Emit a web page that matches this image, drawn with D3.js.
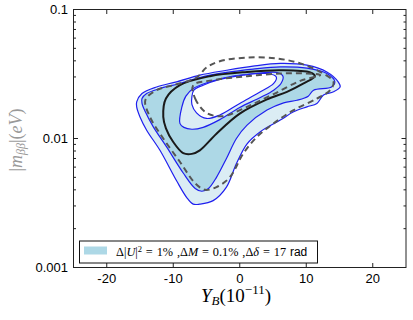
<!DOCTYPE html>
<html><head><meta charset="utf-8">
<script src="https://cdn.jsdelivr.net/npm/d3@7"></script>
<style>body{margin:0;background:#fff}</style>
</head><body><div id="chart"></div>
<script>
// tick values
const xTicks = [-20, -10, 0, 10, 20];
const yTicks = [0.001, 0.01, 0.1];
const yTickLabels = ["0.001", "0.01", "0.1"];

// contours: [Y_B (1e-11), |m_bb| (eV)]
const outerBlue = [[-15.5,0.0192],[-14.7,0.0223],[-12.5,0.0251],[-9.5,0.0275],[-6.0,0.0310],[-2.0,0.0338],[2.0,0.0364],[6.1,0.0382],[10.1,0.0370],[13.1,0.0328],[14.8,0.0275],[15.1,0.0251],[14.1,0.0230],[12.6,0.0217],[11.6,0.0187],[10.1,0.0176],[8.1,0.0161],[6.1,0.0139],[3.1,0.0113],[1.1,0.0091],[-0.5,0.0064],[-2.0,0.0042],[-4.0,0.0033],[-6.0,0.0031],[-7.0,0.0031],[-8.0,0.0035],[-9.5,0.0047],[-12.0,0.0081],[-14.0,0.0116],[-15.0,0.0147],[-15.5,0.0176]];
const midBlue = [[-14.7,0.0204],[-14.0,0.0223],[-12.0,0.0244],[-9.0,0.0267],[-6.0,0.0297],[-2.0,0.0325],[2.0,0.0345],[6.1,0.0359],[10.1,0.0351],[13.1,0.0319],[14.3,0.0275],[13.8,0.0251],[11.1,0.0237],[10.3,0.0213],[8.6,0.0198],[6.6,0.0189],[4.1,0.0166],[1.1,0.0127],[-0.5,0.0100],[-2.0,0.0070],[-3.5,0.0050],[-4.7,0.0041],[-5.7,0.0039],[-6.7,0.0041],[-8.5,0.0054],[-11.0,0.0086],[-13.0,0.0123],[-14.2,0.0161],[-14.7,0.0187]];
const innerBlue = [[-9.0,0.0131],[-8.7,0.0176],[-8.1,0.0213],[-7.0,0.0244],[-4.5,0.0275],[-1.0,0.0304],[3.1,0.0322],[5.6,0.0325],[6.5,0.0304],[6.2,0.0267],[5.1,0.0237],[3.1,0.0208],[0.0,0.0174],[-3.0,0.0140],[-5.5,0.0122],[-7.2,0.0118],[-8.4,0.0122]];
const holeBlue = [[-7.2,0.0210],[-6.9,0.0237],[-5.5,0.0259],[-3.0,0.0287],[0.5,0.0310],[4.1,0.0319],[5.5,0.0300],[5.1,0.0267],[3.1,0.0230],[0.0,0.0187],[-3.0,0.0152],[-5.0,0.0143],[-6.5,0.0158],[-7.2,0.0184]];
const blackLoop = [[-11.5,0.0147],[-11.1,0.0204],[-9.0,0.0259],[-4.5,0.0304],[1.1,0.0328],[6.1,0.0338],[10.6,0.0325],[11.3,0.0304],[9.6,0.0267],[7.1,0.0230],[4.1,0.0201],[0.0,0.0156],[-3.5,0.0109],[-6.0,0.0081],[-7.2,0.0076],[-8.5,0.0077],[-10.0,0.0094],[-11.1,0.0120]];
const dashOuter = [[-14.2,0.0198],[-12.5,0.0237],[-10.0,0.0259],[-6.5,0.0297],[-5.0,0.0355],[-3.0,0.0397],[1.1,0.0424],[5.6,0.0417],[9.1,0.0382],[12.1,0.0328],[14.1,0.0275],[13.6,0.0237],[11.6,0.0204],[8.1,0.0166],[5.1,0.0131],[2.6,0.0103],[0.5,0.0076],[-1.5,0.0050],[-3.5,0.0042],[-5.2,0.0040],[-6.7,0.0045],[-9.0,0.0066],[-11.5,0.0100],[-13.5,0.0147]];
const dashInner = [[-7.0,0.0259],[-6.7,0.0204],[-5.0,0.0158],[-2.5,0.0149],[1.1,0.0176],[5.1,0.0221],[9.1,0.0280],[12.1,0.0310],[10.1,0.0319],[6.1,0.0319],[1.1,0.0304],[-4.0,0.0283]];

const W = 413, H = 320;
const pLeft = 73.5, pRight = 406, pTop = 9.5, pBottom = 267.5;

const x = d3.scaleLinear().domain([-25, 25]).range([pLeft, pRight]);
const y = d3.scaleLog().domain([0.001, 0.1]).range([pBottom, pTop]);

const svg = d3.select('#chart').append('svg')
    .attr('width', W).attr('height', H);

svg.append('clipPath').attr('id', 'clip')
  .append('rect').attr('x', pLeft).attr('y', pTop)
    .attr('width', pRight - pLeft).attr('height', pBottom - pTop);

const line = d3.line()
    .x(d => x(d[0])).y(d => y(d[1]))
    .curve(d3.curveCatmullRomClosed.alpha(0.5));

const plot = svg.append('g').attr('clip-path', 'url(#clip)');
const light = '#dbedf4', mid = '#add8e6', blue = '#1f1fef';

function band(data, fill) {
  plot.append('path').datum(data)
      .attr('d', line)
      .attr('fill', fill)
      .attr('stroke', blue)
      .attr('stroke-width', 1.2);
}
band(outerBlue, light);
band(midBlue, mid);
band(innerBlue, light);
band(holeBlue, '#fff');

plot.append('path').datum(blackLoop)
    .attr('d', line).attr('fill', 'none')
    .attr('stroke', '#1a1a1a').attr('stroke-width', 2);

[dashOuter, dashInner].forEach(d => {
  plot.append('path').datum(d)
      .attr('d', line).attr('fill', 'none')
      .attr('stroke', '#555').attr('stroke-width', 2)
      .attr('stroke-dasharray', '6,4');
});

// ticks, inward on all four sides
const minor = [];
[0.001, 0.01].forEach(b => { for (let k = 2; k <= 9; k++) minor.push(b * k); });

const tk = svg.append('g').attr('stroke', '#222').attr('stroke-width', 1);
xTicks.forEach(v => {
  tk.append('line').attr('x1', x(v)).attr('x2', x(v)).attr('y1', pBottom).attr('y2', pBottom - 4.5);
  tk.append('line').attr('x1', x(v)).attr('x2', x(v)).attr('y1', pTop).attr('y2', pTop + 4.5);
});
yTicks.forEach(v => {
  tk.append('line').attr('y1', y(v)).attr('y2', y(v)).attr('x1', pLeft).attr('x2', pLeft + 4.5);
  tk.append('line').attr('y1', y(v)).attr('y2', y(v)).attr('x1', pRight).attr('x2', pRight - 4.5);
});
minor.forEach(v => {
  tk.append('line').attr('y1', y(v)).attr('y2', y(v)).attr('x1', pLeft).attr('x2', pLeft + 2.5);
  tk.append('line').attr('y1', y(v)).attr('y2', y(v)).attr('x1', pRight).attr('x2', pRight - 2.5);
});

svg.append('rect')
    .attr('x', pLeft).attr('y', pTop)
    .attr('width', pRight - pLeft).attr('height', pBottom - pTop)
    .attr('fill', 'none').attr('stroke', '#222').attr('stroke-width', 1);

const sans = "'Liberation Sans', Arial, sans-serif";
const serif = "'Liberation Serif', 'Times New Roman', serif";

svg.append('g').selectAll('text').data(xTicks).join('text')
    .attr('x', d => x(d)).attr('y', 283)
    .attr('text-anchor', 'middle')
    .attr('font-family', sans).attr('font-size', 13)
    .text(d => d);

svg.append('g').selectAll('text').data(yTicks).join('text')
    .attr('x', 68).attr('y', d => y(d) + 4.5)
    .attr('text-anchor', 'end')
    .attr('font-family', sans).attr('font-size', 13)
    .text((d, i) => yTickLabels[i]);

// x label
const xl = svg.append('text').attr('x', 236).attr('y', 302)
    .attr('text-anchor', 'middle')
    .attr('font-family', serif).attr('font-size', 19);
xl.append('tspan').attr('font-style', 'italic').text('Y');
xl.append('tspan').attr('font-style', 'italic').attr('font-size', 13).attr('dy', 3).text('B');
xl.append('tspan').attr('dy', -3).text('(10');
xl.append('tspan').attr('font-size', 13).attr('dy', -8).text('−11');
xl.append('tspan').attr('dy', 8).text(')');

// y label
const yl = svg.append('text')
    .attr('transform', 'translate(22,140) rotate(-90)')
    .attr('text-anchor', 'middle')
    .attr('font-family', serif).attr('font-size', 18)
    .attr('fill', '#999');
yl.append('tspan').text('|');
yl.append('tspan').attr('font-style', 'italic').text('m');
yl.append('tspan').attr('font-style', 'italic').attr('font-size', 12).attr('dy', 3).text('ββ');
yl.append('tspan').attr('dy', -3).text('|(');
yl.append('tspan').attr('font-style', 'italic').text('eV');
yl.append('tspan').text(')');

// legend
const lg = svg.append('g');
lg.append('rect').attr('x', 79.5).attr('y', 241).attr('width', 238).attr('height', 22)
    .attr('fill', '#fff').attr('stroke', '#111').attr('stroke-width', 1);
lg.append('rect').attr('x', 84).attr('y', 246.5).attr('width', 23).attr('height', 8)
    .attr('fill', mid);
const lt = lg.append('text').attr('x', 116).attr('y', 256)
    .attr('font-family', serif).attr('font-size', 12.3)
    .attr('word-spacing', 0.8);
lt.append('tspan').text('Δ|');
lt.append('tspan').attr('font-style', 'italic').text('U');
lt.append('tspan').text('|');
lt.append('tspan').attr('font-size', 8.5).attr('dy', -4).text('2');
lt.append('tspan').attr('dy', 4).text(' = 1% ,Δ');
lt.append('tspan').attr('font-style', 'italic').text('M');
lt.append('tspan').text(' = 0.1% ,Δ');
lt.append('tspan').attr('font-style', 'italic').text('δ');
lt.append('tspan').text(' = 17 ');
lt.append('tspan').attr('font-family', sans).attr('font-size', 12).text('rad');
</script>
</body></html>
